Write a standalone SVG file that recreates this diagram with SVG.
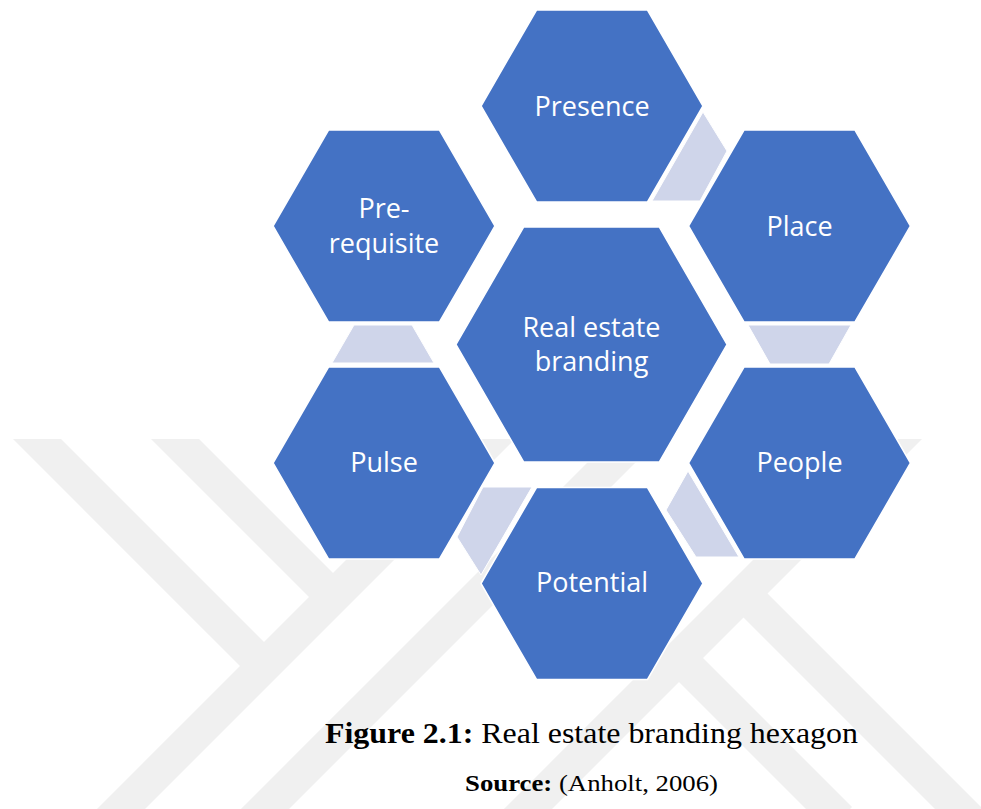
<svg xmlns="http://www.w3.org/2000/svg" width="981" height="809" viewBox="0 0 981 809">
  <style>
    .hex { fill: #4472C4; stroke: #FFFFFF; stroke-width: 1.5; stroke-linejoin: miter; }
    .link { fill: #CFD5EA; stroke: #FFFFFF; stroke-width: 1; }
    .label { font-family: "Open Sans", "Noto Sans", sans-serif; font-size: 27px; fill: #FFFFFF; text-anchor: middle; }
    .wm { fill: none; stroke: #F0F0F0; stroke-width: 34; stroke-linecap: butt; stroke-linejoin: miter; }
    .cap { font-family: "Liberation Serif", "Times New Roman", serif; fill: #000000; }
  </style>
  <defs>
    <clipPath id="wmClip">
      <rect x="0" y="439" width="981" height="370"/>
    </clipPath>
  </defs>

  <rect x="0" y="0" width="981" height="809" fill="#FFFFFF"/>

  <!-- faint background mark -->
  <g id="watermark" clip-path="url(#wmClip)">
    <line class="wm" x1="100" y1="830" x2="512" y2="418"/>
    <line class="wm" x1="15" y1="417" x2="264" y2="666"/>
    <line class="wm" x1="153" y1="417" x2="333" y2="597"/>
    <line class="wm" x1="245" y1="829" x2="655" y2="419"/>
    <line class="wm" x1="920" y1="417" x2="508" y2="829"/>
    <line class="wm" x1="743.5" y1="593.5" x2="1000" y2="850"/>
    <line class="wm" x1="679" y1="658" x2="840" y2="819"/>
  </g>

  <!-- connectors between neighbouring outer hexagons -->
  <g id="connectors">
    <polygon class="link" points="703,112 727,151 700,201 652,201"/>
    <polygon class="link" points="748,325 851,325 829,364 770,364"/>
    <polygon class="link" points="688,471 739,557 696,557 666,510"/>
    <polygon class="link" points="483,487 532,487 481,575 457,537"/>
    <polygon class="link" points="354,325 412,325 434,363 332,363"/>
  </g>

  <g id="center">
    <polygon class="hex" points="456,344.5 523.75,227 659.25,227 727,344.5 659.25,462 523.75,462"/>
    <text class="label" x="591.5" y="337">Real estate</text>
    <text class="label" x="591.5" y="371">branding</text>
  </g>

  <g id="presence">
    <polygon class="hex" points="481,106 536.5,10 647.5,10 703,106 647.5,202 536.5,202"/>
    <text class="label" x="592" y="116">Presence</text>
  </g>

  <g id="place">
    <polygon class="hex" points="688.5,226 744,130 855,130 910.5,226 855,322 744,322"/>
    <text class="label" x="799.5" y="236">Place</text>
  </g>

  <g id="people">
    <polygon class="hex" points="688.5,463 744,367 855,367 910.5,463 855,559 744,559"/>
    <text class="label" x="799.5" y="472">People</text>
  </g>

  <g id="potential">
    <polygon class="hex" points="481,583.5 536.5,487.5 647.5,487.5 703,583.5 647.5,679.5 536.5,679.5"/>
    <text class="label" x="592" y="592">Potential</text>
  </g>

  <g id="pulse">
    <polygon class="hex" points="273,463 328.5,367 439.5,367 495,463 439.5,559 328.5,559"/>
    <text class="label" x="384" y="472">Pulse</text>
  </g>

  <g id="prerequisite">
    <polygon class="hex" points="273,226 328.5,130 439.5,130 495,226 439.5,322 328.5,322"/>
    <text class="label" x="384" y="218">Pre-</text>
    <text class="label" x="384" y="253">requisite</text>
  </g>

  <!-- caption -->
  <g id="caption">
    <text class="cap" x="325" y="743" font-size="29" textLength="533" lengthAdjust="spacingAndGlyphs"><tspan font-weight="bold">Figure 2.1:</tspan> Real estate branding hexagon</text>
    <text class="cap" x="465" y="791" font-size="24" textLength="253" lengthAdjust="spacingAndGlyphs"><tspan font-weight="bold">Source:</tspan> (Anholt, 2006)</text>
  </g>
</svg>
